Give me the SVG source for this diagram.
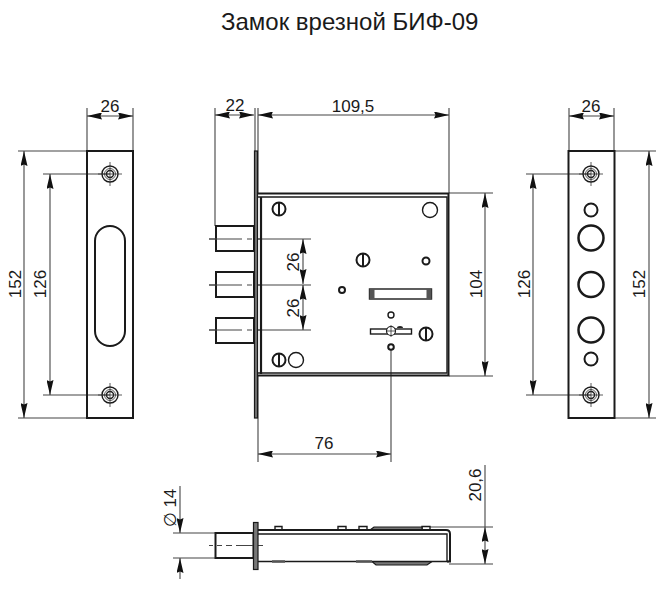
<svg xmlns="http://www.w3.org/2000/svg" width="668" height="591" viewBox="0 0 668 591">
<defs>
<style>
text{font-family:"Liberation Sans",Arial,sans-serif;fill:#1a1a1a}
.t{font-size:24px}
.d{font-size:17px;text-anchor:middle}
.o{fill:none;stroke:#1a1a1a;stroke-width:2}
.m{fill:none;stroke:#1a1a1a;stroke-width:1.4}
.w{fill:#fff;stroke:#1a1a1a;stroke-width:2}
.f{fill:#777;stroke:#1a1a1a;stroke-width:1.2}
.e{fill:none;stroke:#444;stroke-width:1.1}
.c{fill:none;stroke:#444;stroke-width:1.1;stroke-dasharray:33 5 5 5 100 0}
.thin{fill:none;stroke:#333;stroke-width:.8}
.dl{fill:none;stroke:#444;stroke-width:1.1;marker-start:url(#b);marker-end:url(#b)}
</style>
<marker id="b" viewBox="0 0 15 7" refX="15" refY="3.5" markerWidth="15" markerHeight="7" markerUnits="userSpaceOnUse" orient="auto-start-reverse">
<path d="M15 3.500L0 0L1.500 3.500L0 7Z" fill="#111"/>
</marker>
<g id="scr">
<circle r="8" class="m"/><circle r="5.500" class="thin"/><circle r="3.500" class="m"/>
<path d="M-12 0H12M0-12V12" class="thin"/>
</g>
<g id="slot"><circle r="6.500" fill="#fff" stroke="#1a1a1a" stroke-width="2"/><path d="M0-6.500V6.500" stroke="#1a1a1a" stroke-width="2"/></g>
</defs>
<rect width="668" height="591" fill="#fff"/>
<text class="t" x="221" y="30">Замок врезной БИФ-09</text>

<g id="connectors">
<path class="e" d="M87 108V151M133 108V151M215 108V226M255 108V151M258 108V193M449 108V193M569 108V151M614 108V151
M18 151H87M43 174H110M43 395H110M18 418H87
M614 151H656M526 174H591M526 395H591M614 418H656
M449 193H493M449 376H493M258 376V462M391 350V462"/>
<path class="c" d="M209 239H311M209 285H311M209 330H311"/>
<path class="dl" d="M87 116H133"/>
<path class="dl" d="M215 115H254"/>
<path class="dl" d="M258 115H449"/>
<path class="dl" d="M569 116H614"/>
<path class="dl" d="M24 151V418"/>
<path class="dl" d="M50 174V395"/>
<path class="dl" d="M533 174V395"/>
<path class="dl" d="M649 151V418"/>
<path class="dl" d="M303 239V284"/>
<path class="dl" d="M303 285V330"/>
<path class="dl" d="M485 193V376"/>
<path class="dl" d="M258 454H391"/>
<path class="e" d="M485 465V527"/>
<path class="dl" d="M485 527V564"/>
<path class="e" d="M180 486V533" marker-end="url(#b)"/>
<path class="e" d="M180 579V558" marker-end="url(#b)"/>
<path class="e" d="M173 533H216M173 558H216M430 527H493M449 564H493"/>
</g>

<g id="left-plate">
<rect class="o" x="87" y="151" width="46" height="267"/>
<rect class="o" x="95" y="226" width="30" height="120" rx="15"/>
<use href="#scr" x="110" y="174"/>
<use href="#scr" x="110" y="395"/>
</g>

<g id="lock-front">
<rect class="w" x="216" y="226" width="38" height="25"/>
<rect class="w" x="216" y="272" width="38" height="25"/>
<rect class="w" x="216" y="318" width="38" height="25"/>
<path class="c" d="M209 239H262M209 285H262M209 330H262"/>
<rect class="f" x="254.500" y="151" width="3" height="267"/>
<path class="o" d="M258 193.500H448.500V375.500H258"/>
<path class="m" d="M258 197H447V373H258"/>
<path d="M261 197V374" stroke="#1a1a1a" stroke-width="2.200"/>
<use href="#slot" x="279" y="209"/>
<use href="#slot" x="279" y="360"/>
<circle class="m" cx="296" cy="360" r="7.500"/>
<circle class="m" cx="430" cy="210" r="7.500"/>
<use href="#slot" x="363" y="260"/>
<use href="#slot" x="426" y="334"/>
<circle class="o" cx="426" cy="261" r="3.500"/>
<circle class="o" cx="342" cy="290" r="3"/>
<rect class="m" x="369.500" y="289" width="62" height="10"/>
<rect x="369.500" y="289" width="5" height="10" fill="#555"/>
<rect x="426.500" y="289" width="5" height="10" fill="#555"/>
<circle class="m" cx="391" cy="315" r="3"/>
<circle class="o" cx="391" cy="347" r="2.800"/>
<rect class="m" x="370.500" y="329" width="41" height="5"/>
<circle cx="391" cy="331" r="4.500" fill="#fff" stroke="#1a1a1a" stroke-width="1.200"/>
<path class="thin" d="M391 325V337M386 331H396"/>
<path d="M397 328a3 2 0 0 1 6 0z" fill="#222"/>
</g>

<g id="right-plate">
<rect class="o" x="568.500" y="151" width="46" height="267"/>
<use href="#scr" x="591" y="174"/>
<use href="#scr" x="591" y="395"/>
<circle class="o" cx="591" cy="210" r="6.500"/>
<circle cx="591" cy="238" r="12.500" fill="none" stroke="#1a1a1a" stroke-width="2.500"/>
<circle cx="591" cy="284.500" r="12.500" fill="none" stroke="#1a1a1a" stroke-width="2.500"/>
<circle cx="591" cy="330" r="12.500" fill="none" stroke="#1a1a1a" stroke-width="2.500"/>
<circle class="o" cx="591" cy="359" r="6.500"/>
</g>

<g id="lock-side">
<rect class="w" x="215.500" y="533" width="38" height="25"/>
<path class="e" d="M209 545.500H213M217 545.500H222M226 545.500H232M236 545.500H263"/>
<rect class="f" x="253.500" y="522.500" width="4.500" height="47"/>
<path class="m" d="M275 530V526.500H282V530M338 530V526.500H346V530M359 530V526.500H367V530M422 530V526.500H430V530"/>
<path class="f" d="M370 530L374 527H422V530Z"/>
<path class="f" d="M372 561.500L376 565H427L432 561.500Z"/>
<path class="o" d="M258 530H446Q450 530 450 534V561.500H447"/>
<path class="m" d="M258 534H447V561.500"/>
<path class="m" d="M258 561.500H449"/>
<path d="M272 561.500H285M356 561.500H372" stroke="#555" stroke-width="2.500"/>
</g>

<g id="labels">
<text class="d" x="110" y="112">26</text>
<text class="d" x="235" y="111">22</text>
<text class="d" x="353" y="112">109,5</text>
<text class="d" x="591" y="112">26</text>
<text class="d" x="324" y="449">76</text>
<text class="d" transform="translate(21 284) rotate(-90)">152</text>
<text class="d" transform="translate(46 284) rotate(-90)">126</text>
<text class="d" transform="translate(530 284) rotate(-90)">126</text>
<text class="d" transform="translate(645 284) rotate(-90)">152</text>
<text class="d" transform="translate(299 262) rotate(-90)">26</text>
<text class="d" transform="translate(299 308) rotate(-90)">26</text>
<text class="d" transform="translate(482 284) rotate(-90)">104</text>
<text class="d" transform="translate(481 485) rotate(-90)">20,6</text>
<text class="d" transform="translate(176 508) rotate(-90)">∅ 14</text>
</g>
</svg>
